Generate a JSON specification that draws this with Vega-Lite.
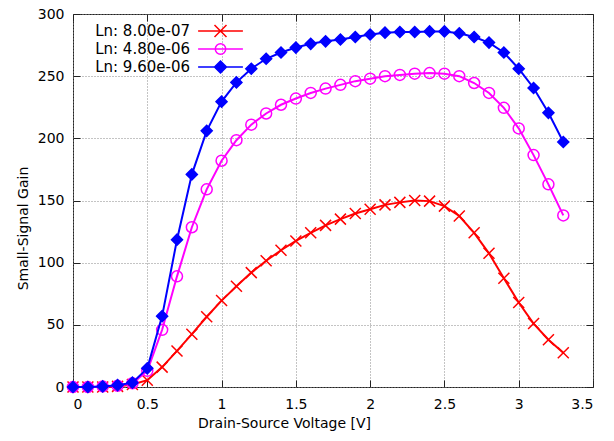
{
  "$schema": "https://vega.github.io/schema/vega-lite/v6.json",
  "width": 520,
  "height": 373,
  "autosize": {"type": "none"},
  "padding": {"left": 73, "top": 14, "right": 21, "bottom": 54},
  "background": "white",
  "config": {
    "font": "DejaVu Sans",
    "view": {"stroke": "#222", "strokeWidth": 1},
    "legend": {
      "orient": "top-left",
      "offset": 8,
      "padding": 0,
      "labelFontSize": 15,
      "labelColor": "#000",
      "labelFont": "DejaVu Sans",
      "labelAlign": "right",
      "labelOffset": -39.5,
      "symbolOffset": 130.5,
      "symbolSize": 256,
      "symbolStrokeWidth": 1.5,
      "symbolOpacity": 1,
      "rowPadding": 0
    }
  },
  "data": {
    "values": [
      {"Vds": 0.0, "Gain": 0, "Ln": "Ln: 8.00e-07"},
      {"Vds": 0.1, "Gain": 0, "Ln": "Ln: 8.00e-07"},
      {"Vds": 0.2, "Gain": 0, "Ln": "Ln: 8.00e-07"},
      {"Vds": 0.3, "Gain": 0.5, "Ln": "Ln: 8.00e-07"},
      {"Vds": 0.4, "Gain": 2, "Ln": "Ln: 8.00e-07"},
      {"Vds": 0.5, "Gain": 5.5, "Ln": "Ln: 8.00e-07"},
      {"Vds": 0.6, "Gain": 16, "Ln": "Ln: 8.00e-07"},
      {"Vds": 0.7, "Gain": 29, "Ln": "Ln: 8.00e-07"},
      {"Vds": 0.8, "Gain": 42.5, "Ln": "Ln: 8.00e-07"},
      {"Vds": 0.9, "Gain": 56.5, "Ln": "Ln: 8.00e-07"},
      {"Vds": 1.0, "Gain": 69.5, "Ln": "Ln: 8.00e-07"},
      {"Vds": 1.1, "Gain": 81, "Ln": "Ln: 8.00e-07"},
      {"Vds": 1.2, "Gain": 92, "Ln": "Ln: 8.00e-07"},
      {"Vds": 1.3, "Gain": 101.5, "Ln": "Ln: 8.00e-07"},
      {"Vds": 1.4, "Gain": 110, "Ln": "Ln: 8.00e-07"},
      {"Vds": 1.5, "Gain": 117.5, "Ln": "Ln: 8.00e-07"},
      {"Vds": 1.6, "Gain": 124, "Ln": "Ln: 8.00e-07"},
      {"Vds": 1.7, "Gain": 130, "Ln": "Ln: 8.00e-07"},
      {"Vds": 1.8, "Gain": 135, "Ln": "Ln: 8.00e-07"},
      {"Vds": 1.9, "Gain": 139.5, "Ln": "Ln: 8.00e-07"},
      {"Vds": 2.0, "Gain": 143, "Ln": "Ln: 8.00e-07"},
      {"Vds": 2.1, "Gain": 146.5, "Ln": "Ln: 8.00e-07"},
      {"Vds": 2.2, "Gain": 148.5, "Ln": "Ln: 8.00e-07"},
      {"Vds": 2.3, "Gain": 150, "Ln": "Ln: 8.00e-07"},
      {"Vds": 2.4, "Gain": 149.5, "Ln": "Ln: 8.00e-07"},
      {"Vds": 2.5, "Gain": 145.5, "Ln": "Ln: 8.00e-07"},
      {"Vds": 2.6, "Gain": 137.5, "Ln": "Ln: 8.00e-07"},
      {"Vds": 2.7, "Gain": 124, "Ln": "Ln: 8.00e-07"},
      {"Vds": 2.8, "Gain": 107.5, "Ln": "Ln: 8.00e-07"},
      {"Vds": 2.9, "Gain": 87.5, "Ln": "Ln: 8.00e-07"},
      {"Vds": 3.0, "Gain": 68, "Ln": "Ln: 8.00e-07"},
      {"Vds": 3.1, "Gain": 51, "Ln": "Ln: 8.00e-07"},
      {"Vds": 3.2, "Gain": 38, "Ln": "Ln: 8.00e-07"},
      {"Vds": 3.3, "Gain": 27.5, "Ln": "Ln: 8.00e-07"},
      {"Vds": 0.0, "Gain": 0, "Ln": "Ln: 4.80e-06"},
      {"Vds": 0.1, "Gain": 0, "Ln": "Ln: 4.80e-06"},
      {"Vds": 0.2, "Gain": 0.5, "Ln": "Ln: 4.80e-06"},
      {"Vds": 0.3, "Gain": 1, "Ln": "Ln: 4.80e-06"},
      {"Vds": 0.4, "Gain": 3, "Ln": "Ln: 4.80e-06"},
      {"Vds": 0.5, "Gain": 13, "Ln": "Ln: 4.80e-06"},
      {"Vds": 0.6, "Gain": 46, "Ln": "Ln: 4.80e-06"},
      {"Vds": 0.7, "Gain": 89, "Ln": "Ln: 4.80e-06"},
      {"Vds": 0.8, "Gain": 128.5, "Ln": "Ln: 4.80e-06"},
      {"Vds": 0.9, "Gain": 159, "Ln": "Ln: 4.80e-06"},
      {"Vds": 1.0, "Gain": 182, "Ln": "Ln: 4.80e-06"},
      {"Vds": 1.1, "Gain": 198.5, "Ln": "Ln: 4.80e-06"},
      {"Vds": 1.2, "Gain": 211, "Ln": "Ln: 4.80e-06"},
      {"Vds": 1.3, "Gain": 220, "Ln": "Ln: 4.80e-06"},
      {"Vds": 1.4, "Gain": 227, "Ln": "Ln: 4.80e-06"},
      {"Vds": 1.5, "Gain": 232, "Ln": "Ln: 4.80e-06"},
      {"Vds": 1.6, "Gain": 236.5, "Ln": "Ln: 4.80e-06"},
      {"Vds": 1.7, "Gain": 240, "Ln": "Ln: 4.80e-06"},
      {"Vds": 1.8, "Gain": 243, "Ln": "Ln: 4.80e-06"},
      {"Vds": 1.9, "Gain": 246, "Ln": "Ln: 4.80e-06"},
      {"Vds": 2.0, "Gain": 248, "Ln": "Ln: 4.80e-06"},
      {"Vds": 2.1, "Gain": 250, "Ln": "Ln: 4.80e-06"},
      {"Vds": 2.2, "Gain": 251, "Ln": "Ln: 4.80e-06"},
      {"Vds": 2.3, "Gain": 252, "Ln": "Ln: 4.80e-06"},
      {"Vds": 2.4, "Gain": 252.5, "Ln": "Ln: 4.80e-06"},
      {"Vds": 2.5, "Gain": 252, "Ln": "Ln: 4.80e-06"},
      {"Vds": 2.6, "Gain": 250, "Ln": "Ln: 4.80e-06"},
      {"Vds": 2.7, "Gain": 244.5, "Ln": "Ln: 4.80e-06"},
      {"Vds": 2.8, "Gain": 236.5, "Ln": "Ln: 4.80e-06"},
      {"Vds": 2.9, "Gain": 224.5, "Ln": "Ln: 4.80e-06"},
      {"Vds": 3.0, "Gain": 208, "Ln": "Ln: 4.80e-06"},
      {"Vds": 3.1, "Gain": 186.5, "Ln": "Ln: 4.80e-06"},
      {"Vds": 3.2, "Gain": 163, "Ln": "Ln: 4.80e-06"},
      {"Vds": 3.3, "Gain": 138, "Ln": "Ln: 4.80e-06"},
      {"Vds": 0.0, "Gain": 0, "Ln": "Ln: 9.60e-06"},
      {"Vds": 0.1, "Gain": 0, "Ln": "Ln: 9.60e-06"},
      {"Vds": 0.2, "Gain": 0.5, "Ln": "Ln: 9.60e-06"},
      {"Vds": 0.3, "Gain": 1.5, "Ln": "Ln: 9.60e-06"},
      {"Vds": 0.4, "Gain": 3.5, "Ln": "Ln: 9.60e-06"},
      {"Vds": 0.5, "Gain": 15, "Ln": "Ln: 9.60e-06"},
      {"Vds": 0.6, "Gain": 57, "Ln": "Ln: 9.60e-06"},
      {"Vds": 0.7, "Gain": 118.5, "Ln": "Ln: 9.60e-06"},
      {"Vds": 0.8, "Gain": 171, "Ln": "Ln: 9.60e-06"},
      {"Vds": 0.9, "Gain": 206, "Ln": "Ln: 9.60e-06"},
      {"Vds": 1.0, "Gain": 229.5, "Ln": "Ln: 9.60e-06"},
      {"Vds": 1.1, "Gain": 245, "Ln": "Ln: 9.60e-06"},
      {"Vds": 1.2, "Gain": 256, "Ln": "Ln: 9.60e-06"},
      {"Vds": 1.3, "Gain": 264, "Ln": "Ln: 9.60e-06"},
      {"Vds": 1.4, "Gain": 269, "Ln": "Ln: 9.60e-06"},
      {"Vds": 1.5, "Gain": 273, "Ln": "Ln: 9.60e-06"},
      {"Vds": 1.6, "Gain": 276, "Ln": "Ln: 9.60e-06"},
      {"Vds": 1.7, "Gain": 278, "Ln": "Ln: 9.60e-06"},
      {"Vds": 1.8, "Gain": 279.5, "Ln": "Ln: 9.60e-06"},
      {"Vds": 1.9, "Gain": 281.5, "Ln": "Ln: 9.60e-06"},
      {"Vds": 2.0, "Gain": 283.5, "Ln": "Ln: 9.60e-06"},
      {"Vds": 2.1, "Gain": 285, "Ln": "Ln: 9.60e-06"},
      {"Vds": 2.2, "Gain": 285.5, "Ln": "Ln: 9.60e-06"},
      {"Vds": 2.3, "Gain": 285.5, "Ln": "Ln: 9.60e-06"},
      {"Vds": 2.4, "Gain": 286, "Ln": "Ln: 9.60e-06"},
      {"Vds": 2.5, "Gain": 286, "Ln": "Ln: 9.60e-06"},
      {"Vds": 2.6, "Gain": 284.5, "Ln": "Ln: 9.60e-06"},
      {"Vds": 2.7, "Gain": 281.5, "Ln": "Ln: 9.60e-06"},
      {"Vds": 2.8, "Gain": 277, "Ln": "Ln: 9.60e-06"},
      {"Vds": 2.9, "Gain": 269, "Ln": "Ln: 9.60e-06"},
      {"Vds": 3.0, "Gain": 256, "Ln": "Ln: 9.60e-06"},
      {"Vds": 3.1, "Gain": 240.5, "Ln": "Ln: 9.60e-06"},
      {"Vds": 3.2, "Gain": 220.5, "Ln": "Ln: 9.60e-06"},
      {"Vds": 3.3, "Gain": 197, "Ln": "Ln: 9.60e-06"}
    ]
  },
  "resolve": {"axis": {"x": "independent", "y": "independent"}},
  "layer": [
    {
      "transform": [{"filter": "datum.Ln === 'Ln: 8.00e-07'"}],
      "mark": {"type": "line", "strokeWidth": 2, "stroke": "#ff0000"},
      "encoding": {
        "x": {
          "field": "Vds", "type": "quantitative",
          "scale": {"domain": [0, 3.5], "nice": false, "zero": false},
          "axis": {
            "orient": "bottom",
            "values": [0, 0.5, 1, 1.5, 2, 2.5, 3, 3.5],
            "format": "~g",
            "domain": false,
            "grid": true, "gridColor": "#888", "gridDash": [1, 2], "gridWidth": 1,
            "ticks": true, "tickSize": -7, "tickColor": "#222", "tickWidth": 1,
            "labelFontSize": 14, "labelColor": "#000", "labelPadding": 17,
            "title": "Drain-Source Voltage [V]",
            "titleFontSize": 14, "titleFontWeight": "normal", "titleColor": "#000",
            "titleX": 211, "titleY": 40, "titleBaseline": "alphabetic", "titleAnchor": "middle", "titleAlign": "center"
          }
        },
        "y": {
          "field": "Gain", "type": "quantitative",
          "scale": {"domain": [0, 300], "nice": false},
          "axis": {
            "orient": "left",
            "values": [0, 50, 100, 150, 200, 250, 300],
            "domain": false,
            "grid": true, "gridColor": "#888", "gridDash": [1, 2], "gridWidth": 1,
            "ticks": true, "tickSize": -7, "tickColor": "#222", "tickWidth": 1,
            "labelFontSize": 14, "labelColor": "#000", "labelPadding": 16,
            "title": "Small-Signal Gain",
            "titleFontSize": 14, "titleFontWeight": "normal", "titleColor": "#000",
            "titleX": -46, "titleY": 214, "titleBaseline": "alphabetic", "titleAnchor": "middle", "titleAlign": "center", "titleAngle": -90
          }
        }
      }
    },
    {
      "transform": [{"filter": "datum.Ln === 'Ln: 8.00e-07'"}],
      "mark": {"type": "point", "shape": "M-1,-1L1,1M-1,1L1,-1", "stroke": "#ff0000", "fill": "transparent", "strokeWidth": 1.5, "opacity": 1, "size": 121},
      "encoding": {
        "x": {
          "field": "Vds", "type": "quantitative",
          "axis": {"orient": "top", "values": [0, 0.5, 1, 1.5, 2, 2.5, 3, 3.5], "labels": false, "grid": false, "domain": false, "ticks": true, "tickSize": -7, "tickColor": "#222", "title": null}
        },
        "y": {
          "field": "Gain", "type": "quantitative",
          "axis": {"orient": "right", "values": [0, 50, 100, 150, 200, 250, 300], "labels": false, "grid": false, "domain": false, "ticks": true, "tickSize": -7, "tickColor": "#222", "title": null}
        }
      }
    },
    {
      "transform": [{"filter": "datum.Ln === 'Ln: 4.80e-06'"}],
      "mark": {"type": "line", "strokeWidth": 2, "stroke": "#ff00ff"},
      "encoding": {
        "x": {"field": "Vds", "type": "quantitative", "axis": null},
        "y": {"field": "Gain", "type": "quantitative", "axis": null}
      }
    },
    {
      "transform": [{"filter": "datum.Ln === 'Ln: 4.80e-06'"}],
      "mark": {"type": "point", "shape": "circle", "stroke": "#ff00ff", "fill": "transparent", "strokeWidth": 1.5, "opacity": 1, "size": 121},
      "encoding": {
        "x": {"field": "Vds", "type": "quantitative", "axis": null},
        "y": {"field": "Gain", "type": "quantitative", "axis": null}
      }
    },
    {
      "transform": [{"filter": "datum.Ln === 'Ln: 9.60e-06'"}],
      "mark": {"type": "line", "strokeWidth": 2, "stroke": "#0000ff"},
      "encoding": {
        "x": {"field": "Vds", "type": "quantitative", "axis": null},
        "y": {"field": "Gain", "type": "quantitative", "axis": null}
      }
    },
    {
      "transform": [{"filter": "datum.Ln === 'Ln: 9.60e-06'"}],
      "mark": {"type": "point", "shape": "diamond", "stroke": "#0000ff", "fill": "#0000ff", "strokeWidth": 1.5, "opacity": 1, "size": 121},
      "encoding": {
        "x": {"field": "Vds", "type": "quantitative", "axis": null},
        "y": {"field": "Gain", "type": "quantitative", "axis": null}
      }
    },
    {
      "transform": [{"filter": "false"}],
      "mark": {"type": "point", "strokeWidth": 1.5, "opacity": 1},
      "encoding": {
        "stroke": {
          "field": "Ln", "type": "nominal",
          "scale": {"domain": ["Ln: 8.00e-07", "Ln: 4.80e-06", "Ln: 9.60e-06"], "range": ["#ff0000", "#ff00ff", "#0000ff"]},
          "legend": {"title": null}
        },
        "shape": {
          "field": "Ln", "type": "nominal",
          "scale": {"domain": ["Ln: 8.00e-07", "Ln: 4.80e-06", "Ln: 9.60e-06"], "range": [
            "M-2.8,0L2.8,0M-0.75,-0.75L0.75,0.75M-0.75,0.75L0.75,-0.75",
            "M-2.8,0L2.8,0M-0.65,0A0.65,0.65,0,1,1,0.65,0A0.65,0.65,0,1,1,-0.65,0",
            "M-2.8,0L2.8,0M-0.75,0L0,-0.75L0.75,0L0,0.75Z"
          ]},
          "legend": {"title": null}
        },
        "fill": {
          "field": "Ln", "type": "nominal",
          "scale": {"domain": ["Ln: 8.00e-07", "Ln: 4.80e-06", "Ln: 9.60e-06"], "range": ["transparent", "transparent", "#0000ff"]},
          "legend": {"title": null}
        }
      }
    }
  ]
}
